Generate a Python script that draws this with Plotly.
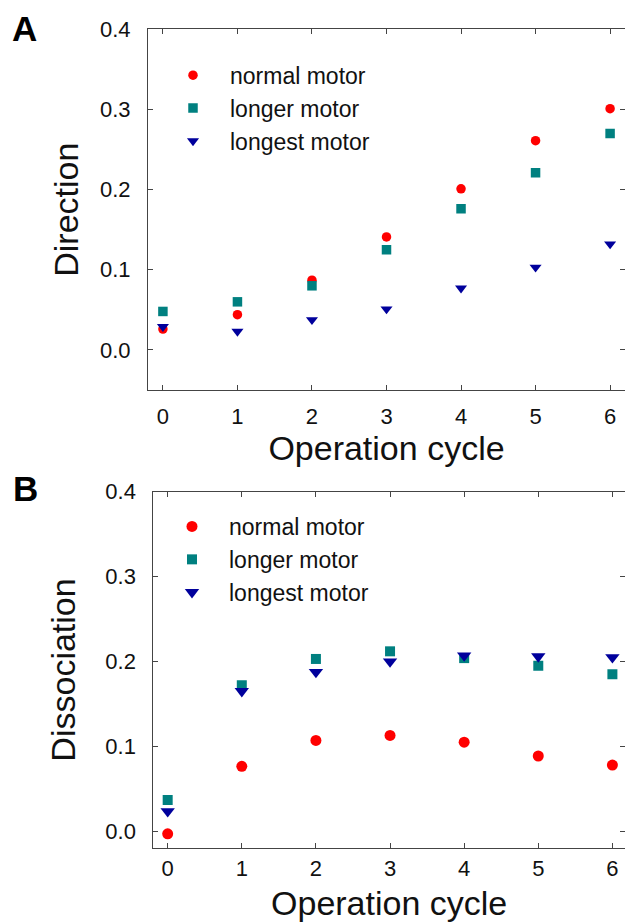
import plotly.graph_objects as go

cycles = [0, 1, 2, 3, 4, 5, 6]
series_names = ["normal motor", "longer motor", "longest motor"]

direction_normal = [0.026, 0.044, 0.087, 0.141, 0.201, 0.261, 0.301]
direction_longer = [0.048, 0.060, 0.080, 0.125, 0.176, 0.221, 0.270]
direction_longest = [0.029, 0.023, 0.0375, 0.051, 0.077, 0.103, 0.132]

dissoc_normal = [-0.003, 0.0765, 0.107, 0.113, 0.105, 0.0887, 0.078]
dissoc_longer = [0.037, 0.172, 0.203, 0.212, 0.204, 0.195, 0.185]
dissoc_longest = [0.0235, 0.165, 0.1875, 0.200, 0.207, 0.206, 0.205]

y_ticks = [0.0, 0.1, 0.2, 0.3, 0.4]
y_ticktext = ["0.0", "0.1", "0.2", "0.3", "0.4"]

colors = ["#ff0000", "#008080", "#00009c"]
symbols = ["circle", "square", "triangle-down"]

W, H = 625, 922
FONT = "Liberation Sans, Arial, sans-serif"
TXT = "#111111"
LINE = "#444444"

fig = go.Figure()

sizes_a = [9.5, 9.5, 10.5]
sizes_b = [11, 10, 12.5]
for name, ys, c, s, sz in zip(series_names, [direction_normal, direction_longer, direction_longest],
                              colors, symbols, sizes_a):
    fig.add_trace(go.Scatter(x=cycles, y=ys, mode="markers", name=name,
                             marker=dict(color=c, symbol=s, size=sz, line=dict(width=0)),
                             xaxis="x", yaxis="y", legend="legend"))
for name, ys, c, s, sz in zip(series_names, [dissoc_normal, dissoc_longer, dissoc_longest],
                              colors, symbols, sizes_b):
    fig.add_trace(go.Scatter(x=cycles, y=ys, mode="markers", name=name,
                             marker=dict(color=c, symbol=s, size=sz, line=dict(width=0)),
                             xaxis="x2", yaxis="y2", legend="legend2"))

def px_x(p):
    return p / W

def px_y(p):
    return 1 - p / H

axis_common = dict(showline=True, linecolor=LINE, linewidth=1, mirror="allticks",
                   ticks="inside", ticklen=5, tickcolor=LINE, tickwidth=1,
                   showgrid=False, zeroline=False, automargin=False,
                   tickfont=dict(family=FONT, size=22, color=TXT))

title_font = dict(family=FONT, size=34, color=TXT)
legend_font = dict(family=FONT, size=23, color=TXT)

fig.update_layout(
    width=W, height=H,
    margin=dict(l=0, r=0, t=0, b=0, pad=0, autoexpand=False),
    paper_bgcolor="white", plot_bgcolor="white",
    font=dict(family=FONT, color=TXT),
    xaxis=dict(domain=[px_x(148), 1.0], range=[-0.2, 6.2], anchor="y",
               tickvals=cycles, ticklabelstandoff=7,
               title=dict(text="Operation cycle", font=title_font, standoff=4),
               **axis_common),
    yaxis=dict(domain=[px_y(390), px_y(29.3)], range=[-0.05, 0.4], anchor="x",
               tickvals=y_ticks, ticktext=y_ticktext, ticklabelstandoff=12,
               title=dict(text="Direction", font=title_font, standoff=11),
               **axis_common),
    xaxis2=dict(domain=[px_x(153.3), 1.0], range=[-0.194, 6.17], anchor="y2",
                tickvals=cycles, ticklabelstandoff=0,
                title=dict(text="Operation cycle", font=title_font, standoff=14),
                **axis_common),
    yaxis2=dict(domain=[px_y(848.3), px_y(491.7)], range=[-0.02, 0.4], anchor="x2",
                tickvals=y_ticks, ticktext=y_ticktext, ticklabelstandoff=12,
                title=dict(text="Dissociation", font=title_font, standoff=19),
                **axis_common),
    legend=dict(x=px_x(156), y=px_y(53.7), xanchor="left", yanchor="top",
                bgcolor="rgba(0,0,0,0)", borderwidth=0, itemwidth=64,
                font=legend_font, tracegroupgap=0),
    legend2=dict(x=px_x(155), y=px_y(505), xanchor="left", yanchor="top",
                 bgcolor="rgba(0,0,0,0)", borderwidth=0, itemwidth=64,
                 font=legend_font, tracegroupgap=0),
    annotations=[
        dict(text="<b>A</b>", x=px_x(10), y=px_y(7), xref="paper", yref="paper",
             xanchor="left", yanchor="top", showarrow=False,
             font=dict(family=FONT, size=35, color="#000000")),
        dict(text="<b>B</b>", x=px_x(11), y=px_y(467), xref="paper", yref="paper",
             xanchor="left", yanchor="top", showarrow=False,
             font=dict(family=FONT, size=35, color="#000000")),
    ],
)

fig.write_html("out.html")
